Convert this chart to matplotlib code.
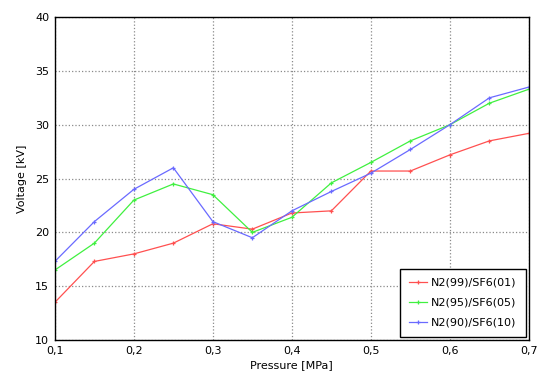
import matplotlib
matplotlib.use("Agg")
import matplotlib.pyplot as plt
from matplotlib.ticker import FuncFormatter

# ================================================================
# DATA
# ================================================================
pressure = [0.10, 0.15, 0.20, 0.25, 0.30, 0.35, 0.40, 0.45, 0.50, 0.55, 0.60, 0.65, 0.70]
v_99_01 = [13.5, 17.3, 18.0, 19.0, 20.8, 20.3, 21.8, 22.0, 25.7, 25.7, 27.2, 28.5, 29.2]
v_95_05 = [16.5, 19.0, 23.0, 24.5, 23.5, 20.0, 21.4, 24.6, 26.5, 28.5, 30.0, 32.0, 33.3]
v_90_10 = [17.3, 21.0, 24.0, 26.0, 21.0, 19.5, 22.0, 23.8, 25.5, 27.7, 30.0, 32.5, 33.5]
labels = ["N2(99)/SF6(01)", "N2(95)/SF6(05)", "N2(90)/SF6(10)"]
colors = ["#ff5050", "#40f040", "#6a6aff"]

x_ticks = [0.1, 0.2, 0.3, 0.4, 0.5, 0.6, 0.7]
y_ticks = [10, 15, 20, 25, 30, 35, 40]


def comma(v, pos):
    return f"{v:g}".replace(".", ",")


fig = plt.figure(figsize=(5.38, 3.72), dpi=100)
ax = fig.add_axes([0.102, 0.086, 0.881, 0.868])

for series, label, color in zip([v_99_01, v_95_05, v_90_10], labels, colors):
    ax.plot(pressure, series, color=color, linewidth=0.9, marker="+",
            markersize=3, markeredgewidth=0.9, label=label)

ax.set_xlim(0.1, 0.7)
ax.set_ylim(10, 40)
ax.set_xticks(x_ticks)
ax.set_yticks(y_ticks)
ax.xaxis.set_major_formatter(FuncFormatter(comma))
ax.tick_params(labelsize=8, length=0, pad=4)
ax.grid(True, color="#8a8a8a", linestyle=":", linewidth=0.9)

for spine in ax.spines.values():
    spine.set_linewidth(1.0)
    spine.set_color("black")

ax.set_xlabel("Pressure [MPa]", fontsize=8, labelpad=3)
ax.set_ylabel("Voltage [kV]", fontsize=8, labelpad=6)

leg = ax.legend(loc="lower right", fontsize=8, fancybox=False,
                framealpha=1, edgecolor="black", handlelength=1.6,
                handletextpad=0.4, labelspacing=0.9, borderpad=0.8,
                borderaxespad=0.3)
leg.get_frame().set_linewidth(1.0)

fig.savefig("out.png", dpi=100)
